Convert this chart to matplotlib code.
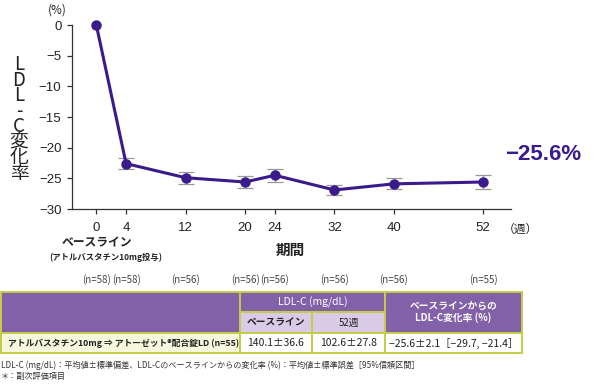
import matplotlib

matplotlib.use("Agg")
import matplotlib.pyplot as plt
from matplotlib.patches import Rectangle

plt.rcParams["font.family"] = ["Noto Sans CJK JP", "DejaVu Sans"]

# data
weeks = [0, 4, 12, 20, 24, 32, 40, 52]
change = [0, -22.6, -24.9, -25.6, -24.5, -26.9, -25.9, -25.6]
err = [0, 0.95, 1.0, 0.95, 1.1, 0.85, 0.9, 1.1]
n_labels = ["(n=58)", "(n=58)", "(n=56)", "(n=56)", "(n=56)", "(n=56)", "(n=56)", "(n=55)"]
y_ticks = [0, -5, -10, -15, -20, -25, -30]
final_label = "−25.6%"

table_group = "アトルバスタチン10mg ⇒ アトーゼット®配合錠LD (n=55)"
table_baseline = "140.1±36.6"
table_week52 = "102.6±27.8"
table_change = "−25.6±2.1［−29.7, −21.4］"

LINE = "#3b1a8c"
PURPLE = "#8261a9"
LAVENDER = "#d9cbe7"
PALE = "#f6f8dd"
BORDER = "#c3cd45"
DARK = "#222222"
LATIN = ["Liberation Sans", "DejaVu Sans"]

fig = plt.figure(figsize=(6.0, 3.87), dpi=100)

# main chart
W, H = 600, 387
ax = fig.add_axes([72 / W, 1 - 209 / H, (511 - 72) / W, (209 - 25) / H])
ax.errorbar(weeks[1:], change[1:], yerr=err[1:], fmt="none",
            ecolor="#999999", elinewidth=0.9, capsize=5.5, capthick=0.9,
            zorder=2)
ax.plot(weeks, change, color=LINE, linewidth=2.2, marker="o",
        markersize=6.5, zorder=3, clip_on=False)

ax.set_xlim(-3.27, 55.74)
ax.set_ylim(-30, 0)
ax.set_yticks(y_ticks)
ax.set_yticklabels([f"{v}".replace("-", "−") for v in y_ticks],
                   fontsize=9.5, family=LATIN)
ax.set_xticks(weeks)
ax.set_xticklabels([str(w) for w in weeks], fontsize=9.5, family=LATIN)
ax.tick_params(axis="both", length=3.6, width=0.9, color="#333333",
               labelcolor=DARK)
ax.tick_params(axis="x", pad=6)
ax.tick_params(axis="y", pad=4)
for side in ("top", "right"):
    ax.spines[side].set_visible(False)
for side in ("left", "bottom"):
    ax.spines[side].set_color("#333333")
    ax.spines[side].set_linewidth(0.9)

ax.text(weeks[-1] + 3.0, change[-1] + 4.5, final_label, color=LINE,
        fontsize=16, fontweight="bold", ha="left", va="center",
        family=LATIN, clip_on=False)

# overlay in pixel coordinates for annotations and table
ov = fig.add_axes([0, 0, 1, 1], zorder=5)
ov.set_xlim(0, W)
ov.set_ylim(H, 0)
ov.axis("off")

ov.text(57, 10, "(%)", fontsize=8.5, ha="center", va="center", color=DARK)
ov.text(19, 119, "\n".join("LDL-C変化率"), fontsize=13.5, ha="center",
        va="center", color=DARK, linespacing=0.66)

ov.text(503, 229, "（週）", fontsize=8.5, ha="left", va="center", color=DARK)
ov.text(97, 243, "ベースライン", fontsize=8.5, fontweight="bold",
        ha="center", va="center", color=DARK)
ov.text(106, 257, "(アトルバスタチン10mg投与)", fontsize=6,
        fontweight="bold", ha="center", va="center", color=DARK)
ov.text(290, 250, "期間", fontsize=10.5, fontweight="bold", ha="center",
        va="center", color=DARK)

# n labels aligned with ticks
for w, lab in zip(weeks, n_labels):
    px = 96.3 + w * 7.44
    ov.text(px, 280, lab, fontsize=7, ha="center", va="center",
            color="#444444")

# table
cols = [1, 240, 312, 385, 522]
rows = [292, 312, 333, 353]


def cell(x0, x1, y0, y1, color):
    ov.add_patch(Rectangle((x0, y0), x1 - x0, y1 - y0, facecolor=color,
                           edgecolor=BORDER, linewidth=1.4))


cell(cols[0], cols[1], rows[0], rows[2], PURPLE)
cell(cols[1], cols[3], rows[0], rows[1], PURPLE)
cell(cols[3], cols[4], rows[0], rows[2], PURPLE)
cell(cols[1], cols[2], rows[1], rows[2], LAVENDER)
cell(cols[2], cols[3], rows[1], rows[2], LAVENDER)
cell(cols[0], cols[1], rows[2], rows[3], PALE)
cell(cols[1], cols[2], rows[2], rows[3], "white")
cell(cols[2], cols[3], rows[2], rows[3], "white")
cell(cols[3], cols[4], rows[2], rows[3], "white")

ov.text((cols[1] + cols[3]) / 2, (rows[0] + rows[1]) / 2, "LDL-C (mg/dL)",
        fontsize=7.5, color="white", ha="center", va="center")
ov.text((cols[3] + cols[4]) / 2, (rows[0] + rows[2]) / 2,
        "ベースラインからの\nLDL-C変化率 (%)", fontsize=7, color="white",
        ha="center", va="center", fontweight="bold", linespacing=1.1)
ov.text((cols[1] + cols[2]) / 2, (rows[1] + rows[2]) / 2, "ベースライン",
        fontsize=7, color=DARK, ha="center", va="center", fontweight="bold")
ov.text((cols[2] + cols[3]) / 2, (rows[1] + rows[2]) / 2, "52週",
        fontsize=7, color=DARK, ha="center", va="center")
ov.text(cols[0] + 7, (rows[2] + rows[3]) / 2, table_group, fontsize=6.3,
        color=DARK, ha="left", va="center", fontweight="bold")
ov.text((cols[1] + cols[2]) / 2, (rows[2] + rows[3]) / 2, table_baseline,
        fontsize=7.5, color=DARK, ha="center", va="center")
ov.text((cols[2] + cols[3]) / 2, (rows[2] + rows[3]) / 2, table_week52,
        fontsize=7.5, color=DARK, ha="center", va="center")
ov.text((cols[3] + cols[4]) / 2, (rows[2] + rows[3]) / 2, table_change,
        fontsize=7.5, color=DARK, ha="center", va="center")

ov.text(1, 365, "LDL-C (mg/dL)：平均値±標準偏差、LDL-Cのベースラインからの変化率 (%)：平均値±標準誤差［95%信頼区間］",
        fontsize=5.9, color="#333333", ha="left", va="center")
ov.text(1, 377, "＊：副次評価項目", fontsize=5.9, color="#333333",
        ha="left", va="center")

fig.savefig("out.png", dpi=100)
